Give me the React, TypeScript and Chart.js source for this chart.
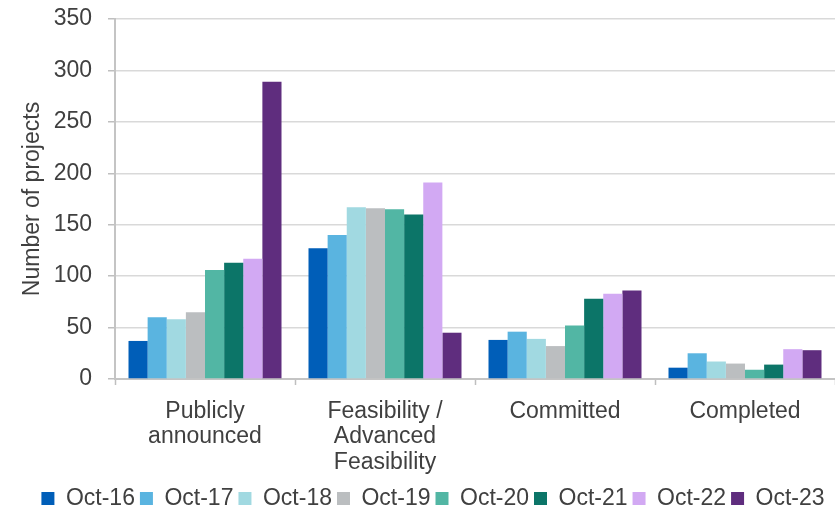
import React, { useEffect, useRef } from "react";
import { Chart, registerables } from "chart.js";

Chart.register(...registerables);

const categories: string[][] = [
  ["Publicly", "announced"],
  ["Feasibility /", "Advanced", "Feasibility"],
  ["Committed"],
  ["Completed"],
];

const seriesLabels = ["Oct-16", "Oct-17", "Oct-18", "Oct-19", "Oct-20", "Oct-21", "Oct-22", "Oct-23"];

const oct16 = [37, 127, 38, 11];
const oct17 = [60, 140, 46, 25];
const oct18 = [58, 167, 39, 17];
const oct19 = [65, 166, 32, 15];
const oct20 = [106, 165, 52, 9];
const oct21 = [113, 160, 78, 14];
const oct22 = [117, 191, 83, 29];
const oct23 = [289, 45, 86, 28];

const seriesValues = [oct16, oct17, oct18, oct19, oct20, oct21, oct22, oct23];

const seriesColors = ["#005EB8", "#5AB4E0", "#A1D9E1", "#BBBEC0", "#52B6A4", "#0C7568", "#D2A9F3", "#5F2D7E"];

const yTicks = [0, 50, 100, 150, 200, 250, 300, 350];

const FONT = "'Liberation Sans', Arial, sans-serif";
const TEXT = "#404040";

export default function App() {
  const ref = useRef<HTMLCanvasElement | null>(null);

  useEffect(() => {
    if (!ref.current) return;
    const chart = new Chart(ref.current, {
      type: "bar",
      data: {
        labels: categories,
        datasets: seriesLabels.map((label, i) => ({
          label,
          data: seriesValues[i],
          backgroundColor: seriesColors[i],
          borderWidth: 0,
          categoryPercentage: 0.85,
          barPercentage: 1,
        })),
      },
      options: {
        responsive: false,
        animation: false,
        layout: { padding: { top: 19, right: 0, bottom: -6, left: 31 } },
        plugins: {
          tooltip: { enabled: false },
          legend: {
            position: "bottom",
            labels: {
              boxWidth: 13,
              boxHeight: 13,
              padding: 5,
              color: TEXT,
              font: { family: FONT, size: 23 },
            },
          },
        },
        scales: {
          x: {
            afterFit: (scale: any) => {
              scale.height = 103;
            },
            grid: {
              offset: true,
              drawOnChartArea: false,
              drawTicks: true,
              tickLength: 6,
              tickColor: "#BFBFBF",
              tickWidth: 1.5,
            },
            border: { color: "#C4C4C4", width: 2 },
            ticks: {
              color: TEXT,
              font: { family: FONT, size: 23, lineHeight: 1.1 },
              padding: 14,
              maxRotation: 0,
              autoSkip: false,
            },
          },
          y: {
            min: 0,
            max: 350,
            afterBuildTicks: (scale: any) => {
              scale.ticks = yTicks.map((v) => ({ value: v }));
            },
            afterFit: (scale: any) => {
              scale.width = 84;
              scale.paddingTop = 0;
              scale.paddingBottom = 0;
            },
            grid: {
              color: "#D9D9D9",
              lineWidth: 1.5,
              tickLength: 7,
              tickColor: "#BFBFBF",
              tickWidth: 1.5,
            },
            border: { color: "#C4C4C4", width: 2 },
            ticks: {
              color: TEXT,
              font: { family: FONT, size: 23, lineHeight: 0.26 },
              padding: 16,
            },
            title: {
              display: true,
              text: "Number of projects",
              color: TEXT,
              font: { family: FONT, size: 23, lineHeight: 0.1 },
              padding: { top: 1, bottom: 0 },
            },
          },
        },
      },
    });
    return () => chart.destroy();
  }, []);

  return (
    <div style={{ position: "absolute", left: 0, top: 0, width: 835, height: 514, background: "#fff" }}>
      <canvas ref={ref} width={835} height={514} />
    </div>
  );
}
